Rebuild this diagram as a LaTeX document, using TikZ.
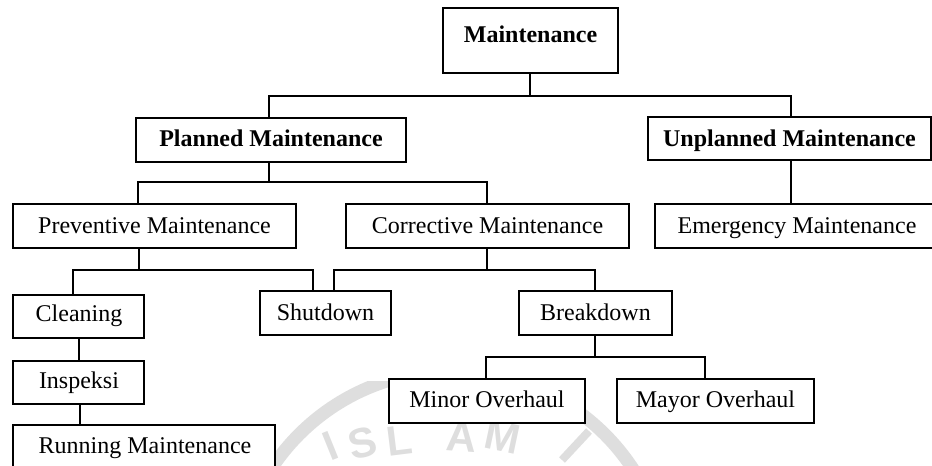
\documentclass[tikz,border=0pt]{standalone}
\usepackage{fontspec}
\setmainfont{Liberation Serif}
\newfontfamily\markfont{Liberation Sans}
\usetikzlibrary{fit}
\begin{document}
\begin{tikzpicture}[x=0.5pt,y=-0.5pt,
  box/.style={draw=black, line width=1pt, fill=white, inner sep=0pt},
  lbl/.style={anchor=base, inner sep=0pt, font=\fontsize{12}{14}\selectfont},
  blbl/.style={anchor=base, inner sep=0pt, font=\fontsize{12}{14}\selectfont\bfseries},
  link/.style={draw=black, line width=1pt},
  wmark/.style={text=black!13, inner sep=0pt, font=\markfont\bfseries\fontsize{21}{21}\selectfont},
  wring/.style={draw=black!13, line width=6.5pt}]
\useasboundingbox (0,0) rectangle (932,466);
\clip (0,0) rectangle (932,466);

% faint seal in the background
\begin{scope}
  \clip (0,381) rectangle (932,466);
  \draw[wring] (452,587) circle[radius=216];
\end{scope}
\node[wmark, rotate=22] (w1) at (330,446) {I};
\node[wmark, rotate=14] (w2) at (363,443) {S};
\node[wmark, rotate=7]  (w3) at (399,441) {L};
\node[wmark, rotate=-4] (w4) at (462,437) {A};
\node[wmark, rotate=-12] (w5) at (503,437) {M};
\draw[draw=black!13, line width=4pt] (562,460) -- (589,431);

% boxes
\node[box, fit={(443,8) (618,73)}]    (mt) {};
\node[box, fit={(136,118) (406,162)}] (pm) {};
\node[box, fit={(648,117) (931,160)}] (um) {};
\node[box, fit={(13,204) (296,248)}]  (pv) {};
\node[box, fit={(346,204) (629,248)}] (cv) {};
\node[box, fit={(655,204) (940,248)}] (em) {};
\node[box, fit={(13,295) (144,338)}]  (cl) {};
\node[box, fit={(260,291) (391,335)}] (sd) {};
\node[box, fit={(519,291) (672,335)}] (bd) {};
\node[box, fit={(13,361) (144,404)}]  (ins) {};
\node[box, fit={(13,425) (275,490)}]  (rm) {};
\node[box, fit={(389,379) (585,423)}] (mn) {};
\node[box, fit={(617,379) (814,423)}] (my) {};

% branch points
\coordinate (b0) at (530,96);
\coordinate (b1) at (269,182);
\coordinate (b2) at (139,270);
\coordinate (b3) at (487,270);
\coordinate (b4) at (595,357);

% connectors
\draw[link] (mt.south -| b0) -- (b0);
\draw[link] (pm.north -| 269,0) |- (b0) -| (um.north -| 791,0);
\draw[link] (pm.south -| b1) -- (b1);
\draw[link] (pv.north -| 138,0) |- (b1) -| (cv.north -| 487,0);
\draw[link] (um.south -| 791,0) -- (em.north -| 791,0);
\draw[link] (pv.south -| b2) -- (b2);
\draw[link] (cl.north -| 73,0) |- (b2) -| (sd.north -| 313,0);
\draw[link] (cv.south -| b3) -- (b3);
\draw[link] (sd.north -| 334,0) |- (b3) -| (bd.north -| 595,0);
\draw[link] (cl.south -| 79,0) -- (ins.north -| 79,0);
\draw[link] (ins.south -| 80,0) -- (rm.north -| 80,0);
\draw[link] (bd.south -| b4) -- (b4);
\draw[link] (mn.north -| 486,0) |- (b4) -| (my.north -| 705,0);

% labels
\node[blbl] (mt-t) at (530.5,42) {Maintenance};
\node[blbl] (pm-t) at (271,146) {Planned Maintenance};
\node[blbl] (um-t) at (789.5,146) {Unplanned Maintenance};
\node[lbl] (pv-t) at (154.5,233) {Preventive Maintenance};
\node[lbl] (cv-t) at (487.5,233) {Corrective Maintenance};
\node[lbl] (em-t) at (797,233) {Emergency Maintenance};
\node[lbl] (cl-t) at (79,321) {Cleaning};
\node[lbl] (sd-t) at (325.5,320) {Shutdown};
\node[lbl] (bd-t) at (595.5,320) {Breakdown};
\node[lbl] (ins-t) at (79,388) {Inspeksi};
\node[lbl] (rm-t) at (145,453) {Running Maintenance};
\node[lbl] (mn-t) at (487,407) {Minor Overhaul};
\node[lbl] (my-t) at (715.5,407) {Mayor Overhaul};
\end{tikzpicture}
\end{document}
